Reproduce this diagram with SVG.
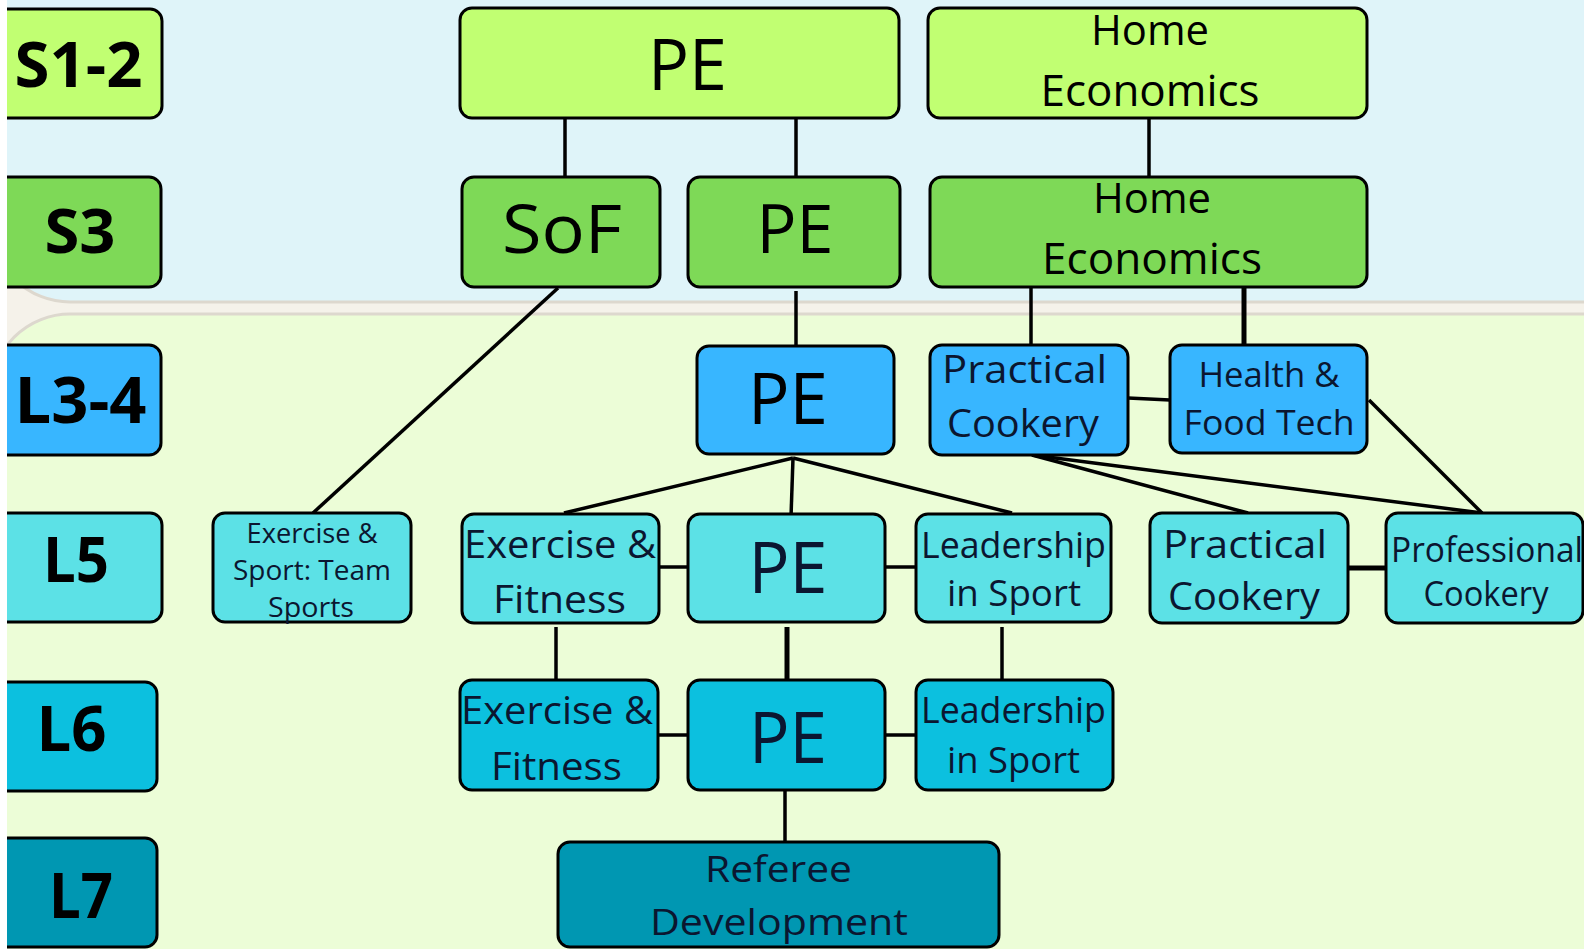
<svg xmlns="http://www.w3.org/2000/svg" width="1584" height="949" viewBox="0 0 1584 949">
<style>
.bg{fill:#f5f2ea}
.panel{stroke:#ddd8ce;stroke-width:3}
.n{stroke:#000;stroke-width:3}
.s12{fill:#c1ff72}.s3{fill:#7ed957}.l34{fill:#38b6ff}.l5{fill:#5ce1e6}.l6{fill:#0cc0df}.l7{fill:#0097b2}
.lab{font-family:"Open Sans","Liberation Sans",sans-serif;font-weight:700;fill:#000;text-anchor:middle}
.t{font-family:"Open Sans","Liberation Sans",sans-serif;fill:#0b1630;text-anchor:middle}
.c line{stroke:#000;stroke-width:3.5;stroke-linecap:butt}
</style>
<rect class="bg" x="0" y="0" width="1584" height="949"/>
<rect class="panel" x="-9" y="-100" width="1700" height="402" rx="79" fill="#dff4f9"/>
<rect class="panel" x="-9" y="314" width="1700" height="760" rx="79" fill="#ecfdd7"/>

<g class="c" id="connectors">
<line x1="565" y1="118" x2="565" y2="177"/>
<line x1="796" y1="118" x2="796" y2="177"/>
<line x1="1149" y1="118" x2="1149" y2="177"/>
<line x1="796" y1="291" x2="796" y2="346"/>
<line x1="558" y1="288" x2="313" y2="513"/>
<line x1="1031" y1="287" x2="1031" y2="345"/>
<line x1="1244" y1="287" x2="1244" y2="345" style="stroke-width:5"/>
<line x1="1128" y1="398" x2="1170" y2="400"/>
<line x1="1369" y1="400" x2="1482" y2="513"/>
<line x1="1032" y1="455" x2="1248" y2="513"/>
<line x1="1032" y1="455" x2="1482" y2="513"/>
<line x1="793" y1="458" x2="564" y2="513"/>
<line x1="793" y1="458" x2="791" y2="517"/>
<line x1="793" y1="458" x2="1012" y2="513"/>
<line x1="659" y1="567" x2="688" y2="567"/>
<line x1="885" y1="567" x2="916" y2="567"/>
<line x1="1348" y1="568" x2="1386" y2="568" style="stroke-width:5"/>
<line x1="556" y1="627" x2="556" y2="680"/>
<line x1="787" y1="627" x2="787" y2="680" style="stroke-width:5"/>
<line x1="1002" y1="627" x2="1002" y2="680"/>
<line x1="658" y1="735" x2="688" y2="735"/>
<line x1="885" y1="735" x2="916" y2="735"/>
<line x1="785" y1="791" x2="785" y2="842"/>
</g>

<g id="label-s12"><rect class="n s12" x="-20" y="9" width="182" height="109" rx="12"/><text class="lab" x="78.5" y="87" font-size="63" textLength="128" lengthAdjust="spacingAndGlyphs">S1-2</text></g>
<g id="label-s3"><rect class="n s3" x="-20" y="177" width="181" height="110" rx="12"/><text class="lab" x="80" y="253" font-size="61" textLength="71" lengthAdjust="spacingAndGlyphs">S3</text></g>
<g id="label-l34"><rect class="n l34" x="-20" y="345" width="181" height="110" rx="12"/><text class="lab" x="80.5" y="423" font-size="64" textLength="132" lengthAdjust="spacingAndGlyphs">L3-4</text></g>
<g id="label-l5"><rect class="n l5" x="-20" y="513" width="182" height="109" rx="12"/><text class="lab" x="76" y="582" font-size="63" textLength="66" lengthAdjust="spacingAndGlyphs">L5</text></g>
<g id="label-l6"><rect class="n l6" x="-20" y="682" width="177" height="109" rx="12"/><text class="lab" x="71.5" y="751" font-size="63" textLength="70" lengthAdjust="spacingAndGlyphs">L6</text></g>
<g id="label-l7"><rect class="n l7" x="-20" y="838" width="177" height="109" rx="12"/><text class="lab" x="81" y="918" font-size="63" textLength="64" lengthAdjust="spacingAndGlyphs">L7</text></g>

<g id="pe-s12"><rect class="n s12" x="460" y="8" width="439" height="110" rx="12"/><text class="t" x="687.5" y="90" font-size="72" style="fill:#000" textLength="79" lengthAdjust="spacingAndGlyphs">PE</text></g>
<g id="he-s12"><rect class="n s12" x="928" y="8" width="439" height="110" rx="12"/><text class="t" x="1150" y="45" font-size="42" style="fill:#000" textLength="118" lengthAdjust="spacingAndGlyphs">Home</text><text class="t" x="1150" y="106" font-size="43" style="fill:#000" textLength="219" lengthAdjust="spacingAndGlyphs">Economics</text></g>
<g id="sof-s3"><rect class="n s3" x="462" y="177" width="198" height="110" rx="12"/><text class="t" x="562" y="253" font-size="68" style="fill:#000" textLength="120" lengthAdjust="spacingAndGlyphs">SoF</text></g>
<g id="pe-s3"><rect class="n s3" x="688" y="177" width="212" height="110" rx="12"/><text class="t" x="795" y="253" font-size="68" style="fill:#000" textLength="77" lengthAdjust="spacingAndGlyphs">PE</text></g>
<g id="he-s3"><rect class="n s3" x="930" y="177" width="437" height="110" rx="12"/><text class="t" x="1152" y="213" font-size="42" style="fill:#000" textLength="118" lengthAdjust="spacingAndGlyphs">Home</text><text class="t" x="1152" y="274" font-size="43" style="fill:#000" textLength="220" lengthAdjust="spacingAndGlyphs">Economics</text></g>

<g id="pe-l34"><rect class="n l34" x="697" y="346" width="197" height="108" rx="12"/><text class="t" x="788" y="424" font-size="72" style="fill:#000" textLength="80" lengthAdjust="spacingAndGlyphs">PE</text></g>
<g id="pc-l34"><rect class="n l34" x="930" y="345" width="198" height="110" rx="12"/><text class="t" x="1024.5" y="383" font-size="38" textLength="165" lengthAdjust="spacingAndGlyphs">Practical</text><text class="t" x="1023" y="437" font-size="38" textLength="152" lengthAdjust="spacingAndGlyphs">Cookery</text></g>
<g id="hft-l34"><rect class="n l34" x="1170" y="345" width="197" height="108" rx="12"/><text class="t" x="1269" y="387" font-size="35" textLength="141" lengthAdjust="spacingAndGlyphs">Health &amp;</text><text class="t" x="1269" y="435" font-size="35" textLength="171" lengthAdjust="spacingAndGlyphs">Food Tech</text></g>

<g id="est-l5"><rect class="n l5" x="213" y="513" width="198" height="109" rx="12"/><text class="t" x="312" y="543" font-size="27" textLength="131" lengthAdjust="spacingAndGlyphs">Exercise &amp;</text><text class="t" x="312" y="580" font-size="27" textLength="158" lengthAdjust="spacingAndGlyphs">Sport: Team</text><text class="t" x="311" y="617" font-size="27" textLength="86" lengthAdjust="spacingAndGlyphs">Sports</text></g>
<g id="ef-l5"><rect class="n l5" x="462" y="514" width="197" height="109" rx="12"/><text class="t" x="560" y="558" font-size="38" textLength="192" lengthAdjust="spacingAndGlyphs">Exercise &amp;</text><text class="t" x="559.5" y="613" font-size="38" textLength="133" lengthAdjust="spacingAndGlyphs">Fitness</text></g>
<g id="pe-l5"><rect class="n l5" x="688" y="514" width="197" height="108" rx="12"/><text class="t" x="788" y="593" font-size="72" textLength="79" lengthAdjust="spacingAndGlyphs">PE</text></g>
<g id="ls-l5"><rect class="n l5" x="916" y="514" width="195" height="108" rx="12"/><text class="t" x="1013.5" y="558" font-size="37" textLength="185" lengthAdjust="spacingAndGlyphs">Leadership</text><text class="t" x="1014" y="606" font-size="37" textLength="134" lengthAdjust="spacingAndGlyphs">in Sport</text></g>
<g id="pc-l5"><rect class="n l5" x="1150" y="513" width="198" height="110" rx="12"/><text class="t" x="1245" y="558" font-size="38" textLength="164" lengthAdjust="spacingAndGlyphs">Practical</text><text class="t" x="1244" y="610" font-size="38" textLength="152" lengthAdjust="spacingAndGlyphs">Cookery</text></g>
<g id="profc-l5"><rect class="n l5" x="1386" y="513" width="197" height="110" rx="12"/><text class="t" x="1487" y="562" font-size="34" textLength="192" lengthAdjust="spacingAndGlyphs">Professional</text><text class="t" x="1486" y="606" font-size="34" textLength="125" lengthAdjust="spacingAndGlyphs">Cookery</text></g>

<g id="ef-l6"><rect class="n l6" x="460" y="680" width="198" height="110" rx="12"/><text class="t" x="557" y="724" font-size="38" textLength="192" lengthAdjust="spacingAndGlyphs">Exercise &amp;</text><text class="t" x="556.5" y="780" font-size="38" textLength="131" lengthAdjust="spacingAndGlyphs">Fitness</text></g>
<g id="pe-l6"><rect class="n l6" x="688" y="680" width="197" height="110" rx="12"/><text class="t" x="788" y="763" font-size="72" textLength="78" lengthAdjust="spacingAndGlyphs">PE</text></g>
<g id="ls-l6"><rect class="n l6" x="916" y="680" width="197" height="110" rx="12"/><text class="t" x="1013.5" y="723" font-size="37" textLength="185" lengthAdjust="spacingAndGlyphs">Leadership</text><text class="t" x="1013.5" y="773" font-size="37" textLength="133" lengthAdjust="spacingAndGlyphs">in Sport</text></g>

<g id="rd-l7"><rect class="n l7" x="558" y="842" width="441" height="105" rx="12"/><text class="t" x="778.5" y="882" font-size="37" textLength="147" lengthAdjust="spacingAndGlyphs">Referee</text><text class="t" x="779" y="935" font-size="37" textLength="258" lengthAdjust="spacingAndGlyphs">Development</text></g>

<rect x="0" y="0" width="7" height="949" fill="#ffffff"/>
</svg>
